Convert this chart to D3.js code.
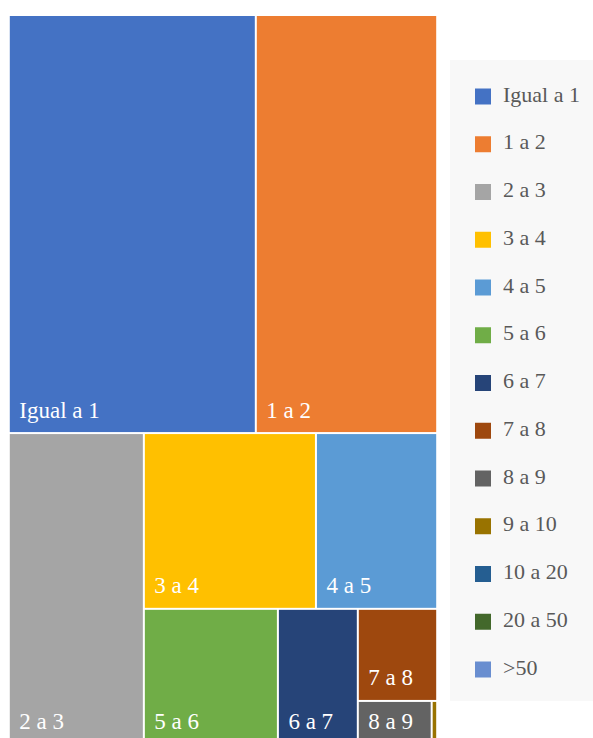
<!DOCTYPE html>
<html>
<head>
<meta charset="utf-8">
<script src="https://cdn.jsdelivr.net/npm/d3@7"></script>
<style>
  html, body { margin: 0; padding: 0; background: #ffffff; }
  svg { display: block; }
</style>
</head>
<body>
<svg id="chart" width="593" height="738"></svg>
<script>
// ---- Data ----
const categories = ["Igual a 1", "1 a 2", "2 a 3", "3 a 4", "4 a 5", "5 a 6", "6 a 7", "7 a 8", "8 a 9", "9 a 10", "10 a 20", "20 a 50", ">50"];
const values = [33.05, 24.27, 13.46, 9.68, 6.82, 5.82, 3.47, 2.34, 1.03, 0.07, 0.004, 0.002, 0.001];
const colors = ["#4472C4", "#ED7D31", "#A5A5A5", "#FFC000", "#5B9BD5", "#70AD47", "#264478", "#9E480E", "#636363", "#997300", "#255E91", "#43682B", "#698ED0"];

// ---- Layout constants ----
const W = 593, H = 738;
const area = { x0: 8.8, y0: 15, x1: 437.2, y1: 744.5 };
const targetAspect = 0.72; // preferred width/height of a tile

// Squarified-style tiling (rows along the shorter side), Excel-like preference
function tileExcel(parent, x0, y0, x1, y1) {
  const nodes = parent.children, n = nodes.length;
  let value = parent.value, i0 = 0;
  function worst(i0, i1, sum, dx, dy, dice) {
    let w = 0;
    for (let i = i0; i < i1; i++) {
      let iw, ih;
      if (dice) { ih = dy * sum / value; iw = dx * nodes[i].value / sum; }
      else { iw = dx * sum / value; ih = dy * nodes[i].value / sum; }
      const a = iw / ih;
      const f = Math.max(a / targetAspect, targetAspect / a);
      if (f > w) w = f;
    }
    return w;
  }
  while (i0 < n) {
    const dx = x1 - x0, dy = y1 - y0, dice = dx < dy;
    let i1 = i0 + 1, sum = nodes[i0].value;
    let best = worst(i0, i1, sum, dx, dy, dice);
    while (i1 < n) {
      const s2 = sum + nodes[i1].value;
      const w2 = worst(i0, i1 + 1, s2, dx, dy, dice);
      if (w2 > best) break;
      best = w2; sum = s2; i1++;
    }
    const row = { value: sum, children: nodes.slice(i0, i1) };
    if (dice) {
      const yy = (i1 >= n) ? y1 : y0 + dy * sum / value;
      d3.treemapDice(row, x0, y0, x1, yy); y0 = yy;
    } else {
      const xx = (i1 >= n) ? x1 : x0 + dx * sum / value;
      d3.treemapSlice(row, x0, y0, xx, y1); x0 = xx;
    }
    value -= sum; i0 = i1;
  }
}

const data = {
  name: "root",
  children: categories.map((c, i) => ({ name: c, value: values[i], color: colors[i] }))
};

const root = d3.hierarchy(data).sum(d => d.value || 0);
d3.treemap()
  .tile(tileExcel)
  .size([area.x1 - area.x0, area.y1 - area.y0])(root);

const svg = d3.select("#chart");
const g = svg.append("g").attr("transform", `translate(${area.x0},${area.y0})`);

const inset = 1;
const leaves = g.selectAll("g.cell")
  .data(root.leaves())
  .join("g")
  .attr("class", "cell");

leaves.append("rect")
  .attr("x", d => d.x0 + inset)
  .attr("y", d => d.y0 + inset)
  .attr("width", d => Math.max(0, d.x1 - d.x0 - 2 * inset))
  .attr("height", d => Math.max(0, d.y1 - d.y0 - 2 * inset))
  .attr("fill", d => d.data.color);

leaves.append("text")
  .attr("x", d => d.x0 + inset + 9.5)
  .attr("y", d => d.y1 - inset - 14.5)
  .attr("font-family", "'Liberation Serif', 'Times New Roman', serif")
  .attr("font-size", 23)
  .attr("fill", "#ffffff")
  .text(d => d.data.name)
  .each(function(d) {
    const tw = this.getComputedTextLength();
    if (tw + 14 > (d.x1 - d.x0) || (d.y1 - d.y0) < 32) d3.select(this).remove();
  });

// ---- Legend ----
const legend = svg.append("g");
legend.append("rect")
  .attr("x", 450).attr("y", 60)
  .attr("width", 150).attr("height", 641)
  .attr("fill", "#f8f8f8");

const legendY = d3.scalePoint()
  .domain(categories)
  .range([88.5, 88.5 + 47.75 * (categories.length - 1)]);

const items = legend.selectAll("g.item")
  .data(categories)
  .join("g")
  .attr("class", "item")
  .attr("transform", d => `translate(0,${legendY(d)})`);

items.append("rect")
  .attr("x", 475).attr("y", 0)
  .attr("width", 16).attr("height", 16)
  .attr("fill", (d, i) => colors[i]);

items.append("text")
  .attr("x", 503).attr("y", 13)
  .attr("font-family", "'Liberation Serif', 'Times New Roman', serif")
  .attr("font-size", 22)
  .attr("fill", "#595959")
  .text(d => d);
</script>
</body>
</html>
